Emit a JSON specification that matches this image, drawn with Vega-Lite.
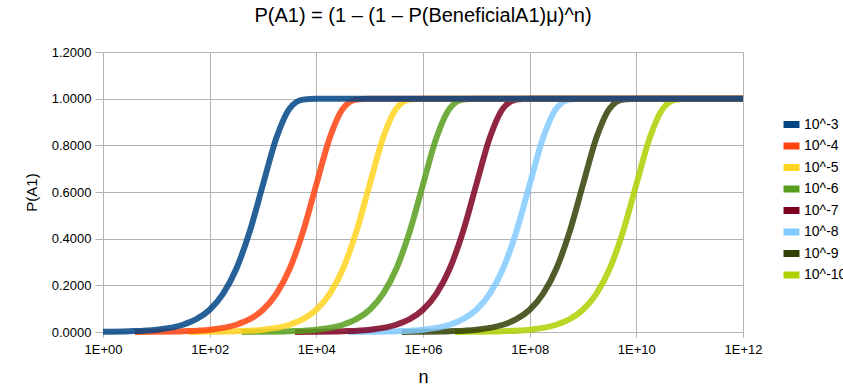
{
  "$schema": "https://vega.github.io/schema/vega-lite/v6.json",
  "autosize": {"type": "none"},
  "width": 640,
  "height": 280,
  "padding": {"left": 103, "top": 52, "right": 100, "bottom": 60},
  "background": "white",
  "title": {
    "text": "P(A1) = (1 – (1 – P(BeneficialA1)μ)^n)",
    "font": "Liberation Sans",
    "fontSize": 20,
    "fontWeight": "normal",
    "color": "black",
    "anchor": "middle",
    "offset": 20
  },
  "config": {
    "font": "Liberation Sans",
    "view": {"stroke": "#b3b3b3", "strokeWidth": 1},
    "axis": {
      "gridColor": "#b3b3b3",
      "domainColor": "#b3b3b3",
      "tickColor": "#b3b3b3",
      "labelColor": "black",
      "labelFont": "Liberation Sans",
      "labelFontSize": 13,
      "titleFont": "Liberation Sans",
      "titleFontWeight": "normal",
      "titleColor": "black"
    }
  },
  "data": {"values": [
    {"s":"10^-10","n":3.98e6,"p":0.0004},{"s":"10^-10","n":1e7,"p":0.0010},{"s":"10^-10","n":3.162e7,"p":0.0032},{"s":"10^-10","n":1e8,"p":0.0100},{"s":"10^-10","n":3.162e8,"p":0.0311},{"s":"10^-10","n":5.623e8,"p":0.0547},{"s":"10^-10","n":1e9,"p":0.0952},{"s":"10^-10","n":1.778e9,"p":0.163},{"s":"10^-10","n":3.162e9,"p":0.271},{"s":"10^-10","n":5.623e9,"p":0.430},{"s":"10^-10","n":1e10,"p":0.632},{"s":"10^-10","n":1.778e10,"p":0.831},{"s":"10^-10","n":3.162e10,"p":0.958},{"s":"10^-10","n":5.623e10,"p":0.996},{"s":"10^-10","n":1e11,"p":1.0},{"s":"10^-10","n":1e12,"p":1.0},
    {"s":"10^-9","n":3.98e5,"p":0.0004},{"s":"10^-9","n":1e6,"p":0.0010},{"s":"10^-9","n":3.162e6,"p":0.0032},{"s":"10^-9","n":1e7,"p":0.0100},{"s":"10^-9","n":3.162e7,"p":0.0311},{"s":"10^-9","n":5.623e7,"p":0.0547},{"s":"10^-9","n":1e8,"p":0.0952},{"s":"10^-9","n":1.778e8,"p":0.163},{"s":"10^-9","n":3.162e8,"p":0.271},{"s":"10^-9","n":5.623e8,"p":0.430},{"s":"10^-9","n":1e9,"p":0.632},{"s":"10^-9","n":1.778e9,"p":0.831},{"s":"10^-9","n":3.162e9,"p":0.958},{"s":"10^-9","n":5.623e9,"p":0.996},{"s":"10^-9","n":1e10,"p":1.0},{"s":"10^-9","n":1e12,"p":1.0},
    {"s":"10^-8","n":3.98e4,"p":0.0004},{"s":"10^-8","n":1e5,"p":0.0010},{"s":"10^-8","n":3.162e5,"p":0.0032},{"s":"10^-8","n":1e6,"p":0.0100},{"s":"10^-8","n":3.162e6,"p":0.0311},{"s":"10^-8","n":5.623e6,"p":0.0547},{"s":"10^-8","n":1e7,"p":0.0952},{"s":"10^-8","n":1.778e7,"p":0.163},{"s":"10^-8","n":3.162e7,"p":0.271},{"s":"10^-8","n":5.623e7,"p":0.430},{"s":"10^-8","n":1e8,"p":0.632},{"s":"10^-8","n":1.778e8,"p":0.831},{"s":"10^-8","n":3.162e8,"p":0.958},{"s":"10^-8","n":5.623e8,"p":0.996},{"s":"10^-8","n":1e9,"p":1.0},{"s":"10^-8","n":1e12,"p":1.0},
    {"s":"10^-7","n":3.98e3,"p":0.0004},{"s":"10^-7","n":1e4,"p":0.0010},{"s":"10^-7","n":3.162e4,"p":0.0032},{"s":"10^-7","n":1e5,"p":0.0100},{"s":"10^-7","n":3.162e5,"p":0.0311},{"s":"10^-7","n":5.623e5,"p":0.0547},{"s":"10^-7","n":1e6,"p":0.0952},{"s":"10^-7","n":1.778e6,"p":0.163},{"s":"10^-7","n":3.162e6,"p":0.271},{"s":"10^-7","n":5.623e6,"p":0.430},{"s":"10^-7","n":1e7,"p":0.632},{"s":"10^-7","n":1.778e7,"p":0.831},{"s":"10^-7","n":3.162e7,"p":0.958},{"s":"10^-7","n":5.623e7,"p":0.996},{"s":"10^-7","n":1e8,"p":1.0},{"s":"10^-7","n":1e12,"p":1.0},
    {"s":"10^-6","n":398,"p":0.0004},{"s":"10^-6","n":1e3,"p":0.0010},{"s":"10^-6","n":3162,"p":0.0032},{"s":"10^-6","n":1e4,"p":0.0100},{"s":"10^-6","n":3.162e4,"p":0.0311},{"s":"10^-6","n":5.623e4,"p":0.0547},{"s":"10^-6","n":1e5,"p":0.0952},{"s":"10^-6","n":1.778e5,"p":0.163},{"s":"10^-6","n":3.162e5,"p":0.271},{"s":"10^-6","n":5.623e5,"p":0.430},{"s":"10^-6","n":1e6,"p":0.632},{"s":"10^-6","n":1.778e6,"p":0.831},{"s":"10^-6","n":3.162e6,"p":0.958},{"s":"10^-6","n":5.623e6,"p":0.996},{"s":"10^-6","n":1e7,"p":1.0},{"s":"10^-6","n":1e12,"p":1.0},
    {"s":"10^-5","n":39.8,"p":0.0004},{"s":"10^-5","n":100,"p":0.0010},{"s":"10^-5","n":316.2,"p":0.0032},{"s":"10^-5","n":1e3,"p":0.0100},{"s":"10^-5","n":3162,"p":0.0311},{"s":"10^-5","n":5623,"p":0.0547},{"s":"10^-5","n":1e4,"p":0.0952},{"s":"10^-5","n":1.778e4,"p":0.163},{"s":"10^-5","n":3.162e4,"p":0.271},{"s":"10^-5","n":5.623e4,"p":0.430},{"s":"10^-5","n":1e5,"p":0.632},{"s":"10^-5","n":1.778e5,"p":0.831},{"s":"10^-5","n":3.162e5,"p":0.958},{"s":"10^-5","n":5.623e5,"p":0.996},{"s":"10^-5","n":1e6,"p":1.0},{"s":"10^-5","n":1e12,"p":1.0},
    {"s":"10^-4","n":3.98,"p":0.0004},{"s":"10^-4","n":10,"p":0.0010},{"s":"10^-4","n":31.62,"p":0.0032},{"s":"10^-4","n":100,"p":0.0100},{"s":"10^-4","n":316.2,"p":0.0311},{"s":"10^-4","n":562.3,"p":0.0547},{"s":"10^-4","n":1e3,"p":0.0952},{"s":"10^-4","n":1778,"p":0.163},{"s":"10^-4","n":3162,"p":0.271},{"s":"10^-4","n":5623,"p":0.430},{"s":"10^-4","n":1e4,"p":0.632},{"s":"10^-4","n":1.778e4,"p":0.831},{"s":"10^-4","n":3.162e4,"p":0.958},{"s":"10^-4","n":5.623e4,"p":0.996},{"s":"10^-4","n":1e5,"p":1.0},{"s":"10^-4","n":1e12,"p":1.0},
    {"s":"10^-3","n":1,"p":0.0010},{"s":"10^-3","n":3.162,"p":0.0032},{"s":"10^-3","n":10,"p":0.0100},{"s":"10^-3","n":31.62,"p":0.0311},{"s":"10^-3","n":56.23,"p":0.0547},{"s":"10^-3","n":100,"p":0.0952},{"s":"10^-3","n":177.8,"p":0.163},{"s":"10^-3","n":316.2,"p":0.271},{"s":"10^-3","n":562.3,"p":0.430},{"s":"10^-3","n":1000,"p":0.632},{"s":"10^-3","n":1778,"p":0.831},{"s":"10^-3","n":3162,"p":0.958},{"s":"10^-3","n":5623,"p":0.996},{"s":"10^-3","n":1e4,"p":1.0},{"s":"10^-3","n":1e12,"p":1.0}
  ]},
  "mark": {"type": "line", "strokeWidth": 6, "strokeOpacity": 0.85, "interpolate": "monotone", "strokeCap": "butt"},
  "encoding": {
    "x": {
      "field": "n", "type": "quantitative",
      "scale": {"type": "log", "domain": [1, 1e12], "nice": false},
      "axis": {
        "title": "n", "titleFontSize": 18, "titlePadding": 12,
        "values": [1, 1e2, 1e4, 1e6, 1e8, 1e10, 1e12],
        "labelExpr": "'1E+' + (round(log(datum.value)/LN10) < 10 ? '0' : '') + round(log(datum.value)/LN10)",
        "tickSize": 5, "labelPadding": 6, "grid": true, "labelFlush": false
      }
    },
    "y": {
      "field": "p", "type": "quantitative",
      "scale": {"domain": [0, 1.2], "nice": false},
      "axis": {
        "title": "P(A1)", "titleFontSize": 15, "titlePadding": 12,
        "values": [0, 0.2, 0.4, 0.6, 0.8, 1.0, 1.2],
        "format": ".4f", "tickSize": 8, "labelPadding": 4, "grid": true
      }
    },
    "color": {
      "field": "s", "type": "nominal",
      "scale": {
        "domain": ["10^-3","10^-4","10^-5","10^-6","10^-7","10^-8","10^-9","10^-10"],
        "range": ["#004586","#ff420e","#ffd320","#579d1c","#7e0021","#83caff","#314004","#aecf00"]
      },
      "legend": {
        "title": null,
        "orient": "none",
        "legendX": 679,
        "legendY": 63,
        "symbolType": "M-1.33,0H1.33",
        "symbolSize": 144,
        "symbolStrokeWidth": 7,
        "symbolOpacity": 1,
        "labelFontSize": 14,
        "labelColor": "black",
        "labelOffset": 3,
        "rowPadding": 4.5,
        "padding": 0,
        "encode": {"symbols": {"update": {"strokeJoin": {"value": "round"}}}}
      }
    }
  }
}
